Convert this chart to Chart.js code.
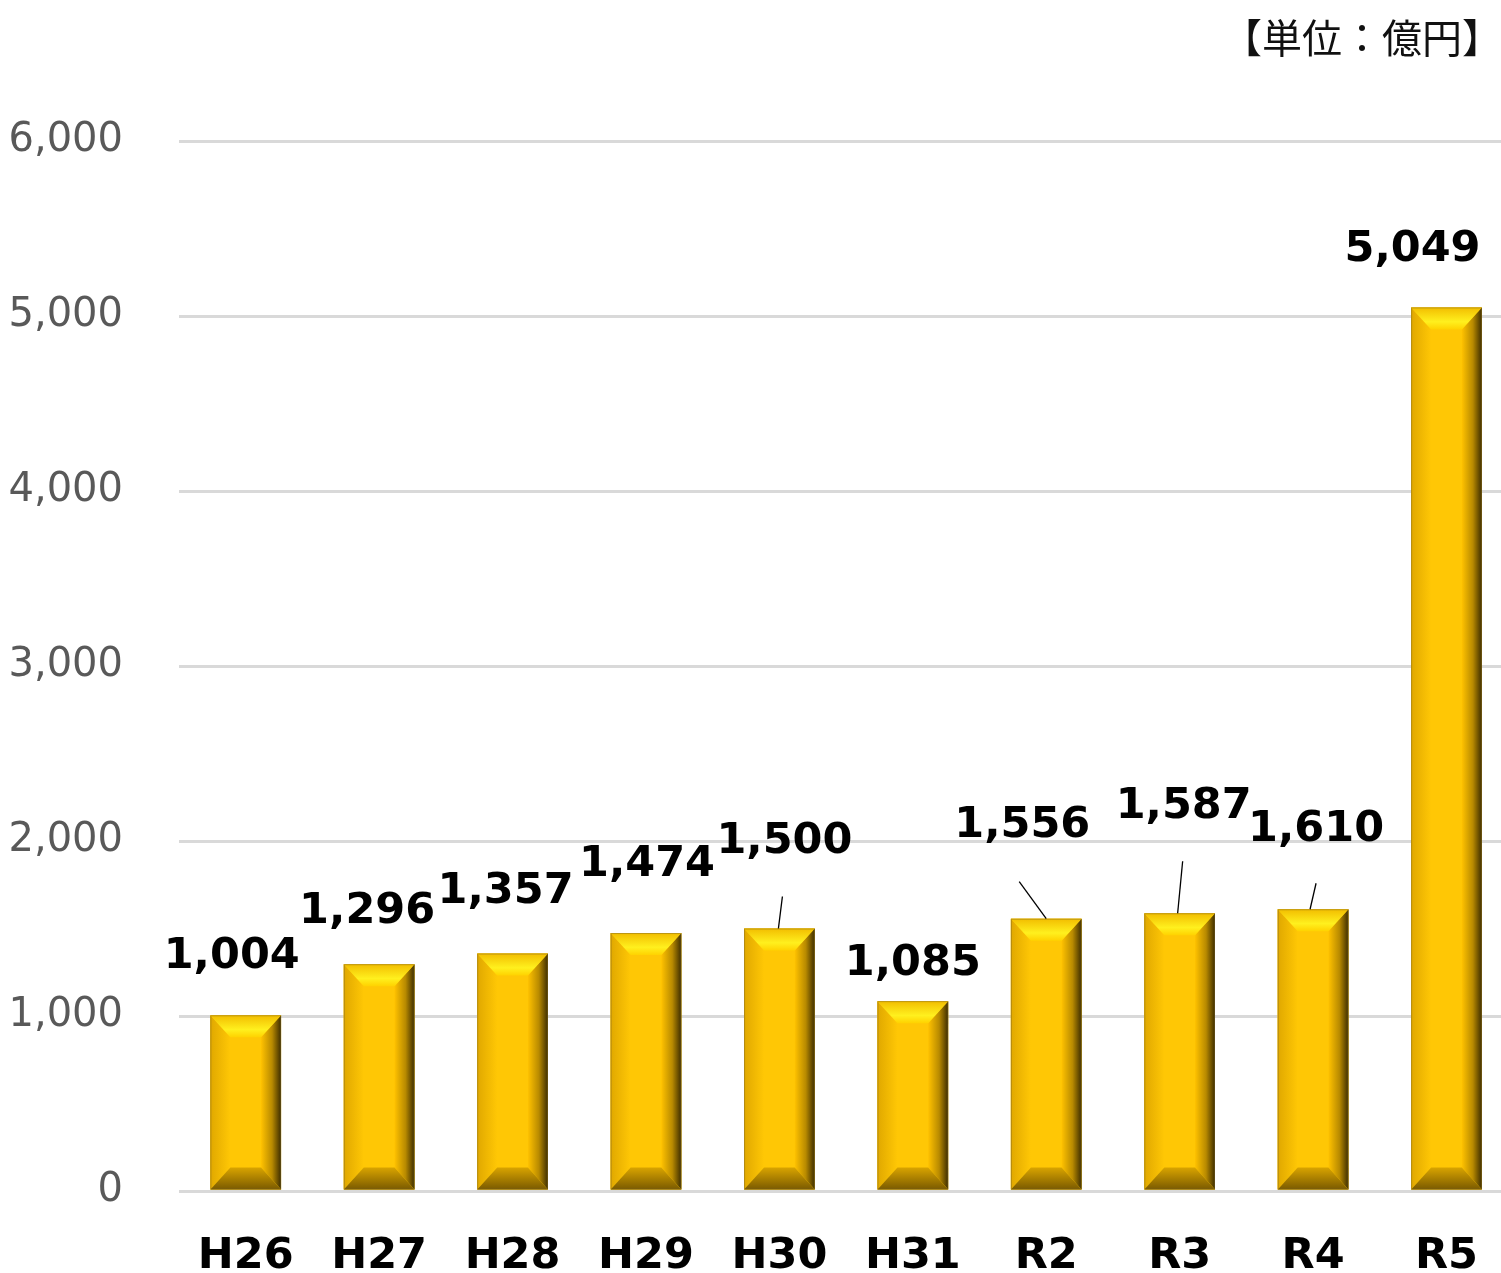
<!DOCTYPE html>
<html>
<head>
<meta charset="utf-8">
<script src="https://cdn.jsdelivr.net/npm/chart.js@4.4.1/dist/chart.umd.min.js"></script>
<style>
    html, body { margin: 0; padding: 0; background: #fff; overflow: hidden; }
    #wrap { position: relative; width: 1501px; height: 1273px; overflow: hidden; }
    canvas { display: block; }
</style>
</head>
<body>
<div id="wrap"><canvas id="budgetChart" width="1518" height="1273"></canvas></div>
<script>
// Fiscal years and amounts (unit: 億円)
const years = ['H26', 'H27', 'H28', 'H29', 'H30', 'H31', 'R2', 'R3', 'R4', 'R5'];
const amounts = [1004, 1296, 1357, 1474, 1500, 1085, 1556, 1587, 1610, 5049];
const yTicks = [0, 1000, 2000, 3000, 4000, 5000, 6000];
const unitText = '【単位：億円】';

// label offsets from bar top centre (px), moved by hand like in the original
const labelOffsets = [[-14, -58], [-12, -52], [-7, -62], [1, -68], [5, -87],
                      [0, -37], [-24, -93], [4, -106], [3, -79], [-34, -58]];
// leader lines: [index, x0, y0, x1, y1] relative to bar top centre
const leaders = [[4, -1, 0, 3, -32], [6, 0, 0, -27, -37], [7, -2, 0, 3, -52], [8, -3, 0, 3, -26]];

const bevelPlugin = {
    id: 'bevel',
    afterDatasetsDraw(chart) {
        const ctx = chart.ctx;
        const meta = chart.getDatasetMeta(0);
        meta.data.forEach(bar => {
            const { x, y, base, width } = bar.getProps(['x', 'y', 'base', 'width'], true);
            const l = x - width / 2, r = x + width / 2, t = y, b = base;
            const bv = 22, sv = 20;
            ctx.save();
            // face
            ctx.fillStyle = '#ffc705';
            ctx.fillRect(l, t, r - l, b - t);

            // left side
            let g = ctx.createLinearGradient(l, 0, l + sv, 0);
            g.addColorStop(0, '#e0a800');
            g.addColorStop(1, '#ffc705');
            ctx.fillStyle = g;
            ctx.beginPath();
            ctx.moveTo(l, t); ctx.lineTo(l + sv, t + bv); ctx.lineTo(l + sv, b - bv); ctx.lineTo(l, b);
            ctx.closePath(); ctx.fill();

            // right side
            g = ctx.createLinearGradient(r - sv, 0, r, 0);
            g.addColorStop(0, '#ffc200');
            g.addColorStop(0.55, '#b88a00');
            g.addColorStop(1, '#3d2d00');
            ctx.fillStyle = g;
            ctx.beginPath();
            ctx.moveTo(r, t); ctx.lineTo(r - sv, t + bv); ctx.lineTo(r - sv, b - bv); ctx.lineTo(r, b);
            ctx.closePath(); ctx.fill();

            // top
            g = ctx.createLinearGradient(0, t, 0, t + bv);
            g.addColorStop(0, '#f2bd00');
            g.addColorStop(0.65, '#fff01e');
            g.addColorStop(1, '#ffd200');
            ctx.fillStyle = g;
            ctx.beginPath();
            ctx.moveTo(l, t); ctx.lineTo(r, t); ctx.lineTo(r - sv, t + bv); ctx.lineTo(l + sv, t + bv);
            ctx.closePath(); ctx.fill();

            // bottom
            g = ctx.createLinearGradient(0, b - bv, 0, b);
            g.addColorStop(0, '#d9a400');
            g.addColorStop(1, '#7a5a00');
            ctx.fillStyle = g;
            ctx.beginPath();
            ctx.moveTo(l, b); ctx.lineTo(r, b); ctx.lineTo(r - sv, b - bv); ctx.lineTo(l + sv, b - bv);
            ctx.closePath(); ctx.fill();

            ctx.strokeStyle = 'rgba(120,100,40,0.45)';
            ctx.lineWidth = 1;
            ctx.strokeRect(l + 0.5, t + 0.5, r - l - 1, b - t - 1);
            ctx.restore();
        });
    }
};

const labelPlugin = {
    id: 'valueLabels',
    afterDraw(chart) {
        const ctx = chart.ctx;
        const meta = chart.getDatasetMeta(0);
        ctx.save();
        // leader lines
        ctx.strokeStyle = '#000';
        ctx.lineWidth = 1.3;
        leaders.forEach(([i, x0, y0, x1, y1]) => {
            const bar = meta.data[i];
            ctx.beginPath();
            ctx.moveTo(bar.x + x0, bar.y + y0);
            ctx.lineTo(bar.x + x1, bar.y + y1);
            ctx.stroke();
        });
        ctx.fillStyle = '#000';
        ctx.font = 'bold 43px "DejaVu Sans"';
        ctx.textAlign = 'center';
        ctx.textBaseline = 'middle';
        meta.data.forEach((bar, i) => {
            const [dx, dy] = labelOffsets[i];
            ctx.fillText(amounts[i].toLocaleString('en-US'), bar.x + dx, bar.y + dy);
        });
        // unit note
        ctx.font = '40px "Noto Sans CJK JP"';
        ctx.textAlign = 'right';
        ctx.fillStyle = '#111';
        ctx.fillText(unitText, 1502, 38);
        ctx.restore();
    }
};

const ctx = document.getElementById('budgetChart').getContext('2d');
new Chart(ctx, {
    type: 'bar',
    data: {
        labels: years,
        datasets: [{
            data: amounts,
            backgroundColor: '#ffc705',
            borderWidth: 0,
            barPercentage: 0.53,
            categoryPercentage: 1.0
        }]
    },
    options: {
        responsive: false,
        animation: false,
        layout: { padding: { top: 141, left: 0, right: 0, bottom: 0 } },
        plugins: {
            legend: { display: false },
            tooltip: { enabled: false }
        },
        scales: {
            y: {
                min: 0,
                max: 6000,
                afterFit: s => { s.width = 179; },
                afterBuildTicks: s => { s.ticks = yTicks.map(v => ({ value: v })); },
                ticks: {
                    color: '#595959',
                    font: { family: 'DejaVu Sans', size: 40 },
                    padding: 56,
                    callback: v => v.toLocaleString('en-US')
                },
                grid: { color: '#d9d9d9', lineWidth: 3, drawTicks: false },
                border: { display: false }
            },
            x: {
                afterFit: s => { s.height = 82; },
                ticks: {
                    color: '#000',
                    font: { family: 'DejaVu Sans', size: 43, weight: 'bold' },
                    padding: 40
                },
                grid: { display: false, drawTicks: false },
                border: { display: false }
            }
        }
    },
    plugins: [bevelPlugin, labelPlugin]
});
</script>
</body>
</html>
